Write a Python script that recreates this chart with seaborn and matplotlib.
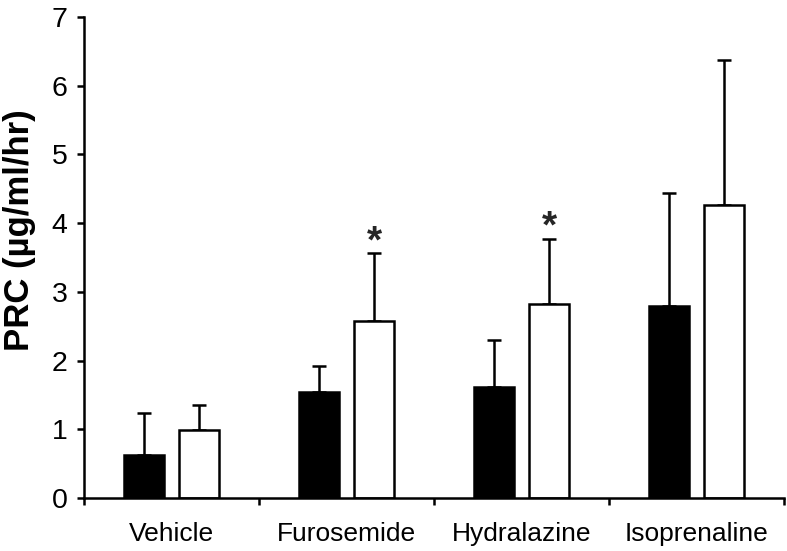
import numpy as np
import pandas as pd
import matplotlib
matplotlib.use("Agg")
import matplotlib.pyplot as plt
import seaborn as sns
from matplotlib.ticker import FixedLocator, NullFormatter, FixedFormatter

# ---- data ----
categories = ["Vehicle", "Furosemide", "Hydralazine", "Isoprenaline"]
series_names = ["control", "treated"]
control_vals = [0.63, 1.54, 1.61, 2.79]
control_err = [0.61, 0.38, 0.69, 1.65]
treated_vals = [0.99, 2.57, 2.82, 4.26]
treated_err = [0.37, 0.99, 0.95, 2.11]
treated_sig = [False, True, True, False]
y_ticks = [0, 1, 2, 3, 4, 5, 6, 7]
y_label = "PRC (µg/ml/hr)"

df = pd.DataFrame({
    "group": categories * 2,
    "series": [series_names[0]] * 4 + [series_names[1]] * 4,
    "value": control_vals + treated_vals,
})

sns.set_style("ticks")
plt.rcParams["font.family"] = ["Liberation Sans", "DejaVu Sans"]

fig = plt.figure(figsize=(7.87, 5.51), dpi=100)
ax = fig.add_axes([84 / 787, 1 - 498 / 551, 700 / 787, 481 / 551])

sns.barplot(data=df, x="group", y="value", hue="series", order=categories,
            hue_order=series_names,
            palette={"control": "black", "treated": "white"},
            edgecolor="black", linewidth=1.8, width=0.629, gap=0.29,
            errorbar=None, legend=False, ax=ax, zorder=3)

errs = [control_err, treated_err]
vals = [control_vals, treated_vals]
bar_containers = list(ax.containers)
for k, cont in enumerate(bar_containers):
    xs = [p.get_x() + p.get_width() / 2 for p in cont.patches]
    ax.errorbar(xs, vals[k], yerr=[np.zeros(len(xs)), errs[k]], fmt="none",
                ecolor="black", elinewidth=1.8, capsize=4.7, capthick=1.8,
                zorder=2)
    if k == 1:
        for x, v, e, s in zip(xs, vals[k], errs[k], treated_sig):
            if s:
                ax.annotate("*", (x, v + e), xytext=(0, 1.0),
                            textcoords="offset points", ha="center",
                            va="baseline", fontsize=28, fontweight="bold")

ax.set_xlim(-0.5, 3.5)
ax.set_ylim(0, 7)

# x axis: ticks between categories, labels centered on categories
ax.xaxis.set_major_locator(FixedLocator([-0.5, 0.5, 1.5, 2.5, 3.5]))
ax.xaxis.set_major_formatter(NullFormatter())
ax.xaxis.set_minor_locator(FixedLocator([0, 1, 2, 3]))
ax.xaxis.set_minor_formatter(FixedFormatter(categories))
ax.tick_params(axis="x", which="major", direction="out", length=5, width=1.8,
               color="black")
ax.tick_params(axis="x", which="minor", length=0, pad=17, labelsize=19,
               labelcolor="black")

ax.set_yticks(y_ticks)
ax.set_yticklabels([str(t) for t in y_ticks])
ax.tick_params(axis="y", direction="out", length=5, width=1.8, pad=7,
               labelsize=20.5, color="black", labelcolor="black")

ax.set_xlabel("")
ax.set_ylabel(y_label, fontsize=25, fontweight="bold", color="black")
ax.yaxis.set_label_coords(-0.069, 0.557)

for side in ["top", "right"]:
    ax.spines[side].set_visible(False)
for side in ["left", "bottom"]:
    ax.spines[side].set_linewidth(1.8)
    ax.spines[side].set_color("black")
    ax.spines[side].set_zorder(5)

fig.savefig("out.png", dpi=100)
